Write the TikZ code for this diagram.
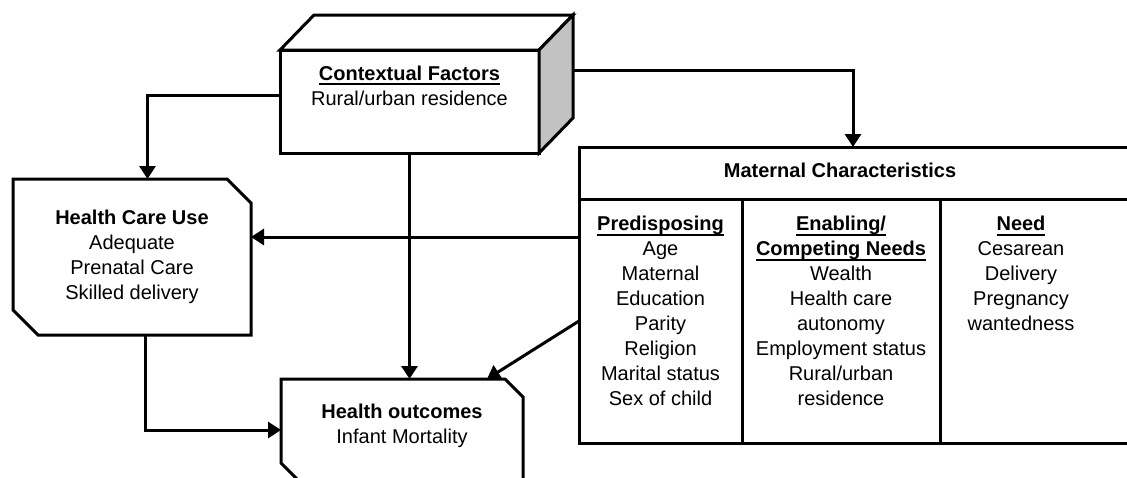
\documentclass[tikz,border=0pt]{standalone}
\usepackage{fontspec}
\setmainfont{Liberation Sans}
\usetikzlibrary{arrows.meta, calc}

\newcommand{\figfont}{\fontsize{10}{12.5}\selectfont}
\newsavebox{\ulbox}
\newcommand{\ulhead}[1]{\sbox{\ulbox}{\textbf{#1}}\rlap{\rule[-2.3pt]{\wd\ulbox}{0.9pt}}\usebox{\ulbox}}

\begin{document}
\begin{tikzpicture}[
    x=0.5pt, y=-0.5pt,
    box/.style={draw, line width=1.5pt, fill=white, outer sep=0pt, inner sep=0pt},
    area/.style={outer sep=0pt, inner sep=0pt},
    outline/.style={draw, line width=1.5pt, fill=white},
    txt/.style={font=\figfont, align=center, inner sep=0pt, anchor=north},
    link/.style={line width=1.5pt, ->},
    >={Triangle[length=6.5pt, width=8pt]}
  ]
  \useasboundingbox (0,0) rectangle (1127,477);
  \clip (0,0) rectangle (1127,477);

  % Contextual factors (cube)
  \node[box, minimum width=129.5pt, minimum height=51.5pt] (ctx) at (409.5,101.5) {};
  \draw[outline] (ctx.north west) -- ++(34,-35) -- ($(ctx.north east)+(34,-35)$) -- (ctx.north east) -- cycle;
  \draw[outline, fill=black!24] (ctx.north east) -- ++(34,-35) -- ($(ctx.south east)+(34,-35)$) -- (ctx.south east) -- cycle;
  \node[txt] (ctxtxt) at (409.5,65.5) {\ulhead{Contextual Factors}\\Rural/urban residence};

  % Health care use
  \node[area, minimum width=119pt, minimum height=78pt] (hcu) at (132,257) {};
  \draw[outline] (hcu.north west) -- ([xshift=-12pt]hcu.north east) -- ([yshift=-12pt]hcu.north east)
    -- (hcu.south east) -- ([xshift=12.5pt]hcu.south west) -- ([yshift=12.5pt]hcu.south west) -- cycle;
  \node[txt] (hcutxt) at (132,209.5) {\textbf{Health Care Use}\\Adequate\\Prenatal Care\\Skilled delivery};

  % Health outcomes
  \node[area, minimum width=121pt, minimum height=51pt] (out) at (402,430) {};
  \draw[outline] (out.north west) -- ([xshift=-9pt]out.north east) -- ([yshift=-9pt]out.north east)
    -- (out.south east) -- ([xshift=9pt]out.south west) -- ([yshift=9pt]out.south west) -- cycle;
  \node[txt] (outtxt) at (402,403.5) {\textbf{Health outcomes}\\Infant Mortality};

  % Maternal characteristics
  \node[box, minimum width=290.5pt, minimum height=26pt] (mat) at (869.5,173) {};
  \node[box, minimum width=81.5pt, minimum height=122pt] (pred) at (660.5,321) {};
  \node[box, minimum width=99pt, minimum height=122pt] (enab) at (841,321) {};
  \node[box, minimum width=110pt, minimum height=122pt] (need) at (1050,321) {};
  \node[txt] (mattxt) at (840,163) {\textbf{Maternal Characteristics}};
  \node[txt] (predtxt) at (660.5,216) {\ulhead{Predisposing}\\Age\\Maternal\\Education\\Parity\\Religion\\Marital status\\Sex of child};
  \node[txt] (enabtxt) at (841,216) {\ulhead{Enabling/}\\\ulhead{Competing Needs}\\Wealth\\Health care\\autonomy\\Employment status\\Rural/urban\\residence};
  \node[txt] (needtxt) at (1021,216) {\ulhead{Need}\\Cesarean\\Delivery\\Pregnancy\\wantedness};

  % Links
  \draw[link] ($(ctx.west)+(0,-6)$) -| ($(hcu.north)+(15.5,0)$);
  \draw[link] ($(ctx.east)+(34,-31.5)$) -| ($(mat.north west)+(274,0)$);
  \draw[link] (ctx.south) -- (ctx.south |- out.north);
  \coordinate (predin) at ($(pred.north west)+(0,38)$);
  \draw[link] (predin) -- (predin -| hcu.east);
  \draw[link] ($(hcu.south)+(13,0)$) |- (out.west);
  \draw[link] (pred.west) -- ($(out.north)+(85,0)$);

\end{tikzpicture}
\end{document}
